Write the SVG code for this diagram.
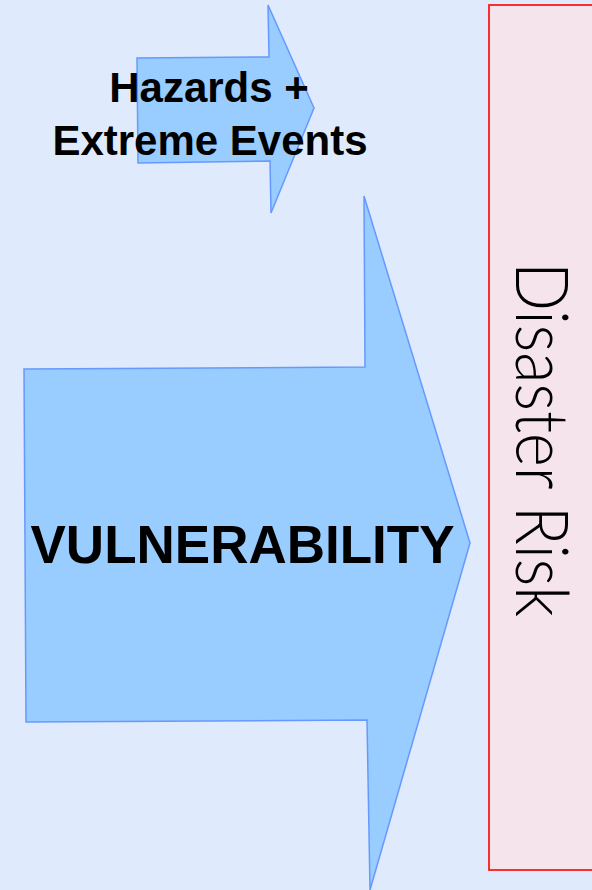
<svg xmlns="http://www.w3.org/2000/svg" width="592" height="890" viewBox="0 0 592 890">
  <style>
    .arrow { fill: #99CCFF; stroke: #6699FF; stroke-width: 1.5; stroke-linejoin: miter; }
    .bold { font-family: "Liberation Sans", Arial, sans-serif; font-weight: bold; fill: #000; text-anchor: middle; }
    .thin { font-family: Lato, "Open Sans", "DejaVu Sans", sans-serif; font-weight: 300; fill: #000; }
  </style>
  <rect x="0" y="0" width="592" height="890" fill="#DFEBFD"/>
  <g id="disaster-risk">
    <rect x="489" y="5" width="110" height="865" fill="#F5E4EC" stroke="#FF1A1A" stroke-width="1.8"/>
    <text class="thin" transform="translate(516,262) rotate(90)" x="0" y="0" font-size="72" textLength="355" lengthAdjust="spacingAndGlyphs">Disaster Risk</text>
  </g>
  <g id="vulnerability">
    <polygon class="arrow" points="24,369 365,367 364,196 470,543 370,890 367,720 26,722"/>
    <text class="bold" x="242.5" y="563" font-size="53">VULNERABILITY</text>
  </g>
  <g id="hazards">
    <polygon class="arrow" points="137,58 269,57 268,5 314,108 271,213 270,161 138,163"/>
    <text class="bold" x="209" y="102" font-size="42">Hazards +</text>
    <text class="bold" x="210" y="155" font-size="42">Extreme Events</text>
  </g>
  <g id="connectors"/>
</svg>
